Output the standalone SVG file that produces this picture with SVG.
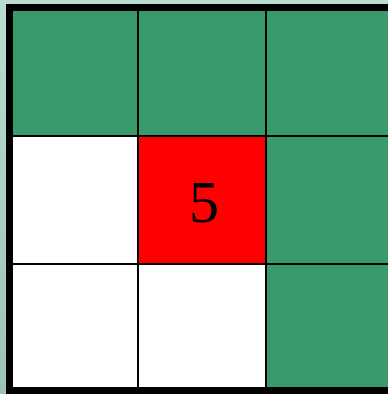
<svg xmlns="http://www.w3.org/2000/svg" width="388" height="394" viewBox="0 0 388 394">
<defs>
<linearGradient id="bg" x1="0" y1="0" x2="0" y2="1">
<stop offset="0" stop-color="#bcdccf"/>
<stop offset="1" stop-color="#9cc4b4"/>
</linearGradient>
<style>
.g{fill:#399a6b}
.w{fill:#ffffff}
.r{fill:#ff0000}
.t{font-family:'Liberation Serif','Times New Roman','DejaVu Serif',serif;font-size:60px;fill:#000000;text-anchor:middle}
</style>
</defs>
<rect x="0" y="0" width="388" height="394" fill="url(#bg)"/>
<rect x="6" y="4" width="382" height="390" fill="#000000"/>
<g id="cell-0-0"><rect class="g" x="13" y="11" width="124" height="124"/></g>
<g id="cell-0-1"><rect class="g" x="139" y="11" width="126" height="124"/></g>
<g id="cell-0-2"><rect class="g" x="267" y="11" width="121" height="124"/></g>
<g id="cell-1-0"><rect class="w" x="13" y="137" width="124" height="126"/></g>
<g id="cell-1-1"><rect class="r" x="139" y="137" width="126" height="126"/><text class="t" x="204" y="222" font-family="Liberation Serif, Times New Roman, serif">5</text></g>
<g id="cell-1-2"><rect class="g" x="267" y="137" width="121" height="126"/></g>
<g id="cell-2-0"><rect class="w" x="13" y="265" width="124" height="122"/></g>
<g id="cell-2-1"><rect class="w" x="139" y="265" width="126" height="122"/></g>
<g id="cell-2-2"><rect class="g" x="267" y="265" width="121" height="122"/></g>
</svg>
